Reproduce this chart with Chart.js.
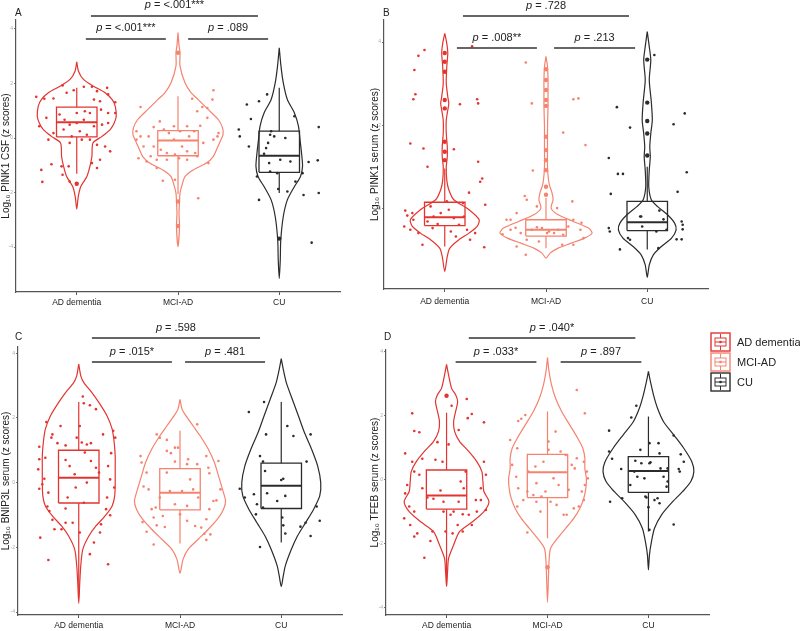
<!DOCTYPE html>
<html>
<head>
<meta charset="utf-8">
<script src="https://cdn.jsdelivr.net/npm/chart.js@4.4.1/dist/chart.umd.min.js"></script>
<style>
    body { margin: 0; background: #fff; width: 800px; height: 631px; position: relative; overflow: hidden; font-family: Arial, "Liberation Sans", sans-serif; }
    canvas { position: absolute; }
    .tag { position: absolute; font-size: 10px; color: #222; }
</style>
</head>
<body>
<canvas id="panelA" width="360" height="315" style="left:0;top:0"></canvas>
<canvas id="panelB" width="440" height="315" style="left:360px;top:0"></canvas>
<canvas id="panelC" width="360" height="316" style="left:0;top:315px"></canvas>
<canvas id="panelD" width="440" height="316" style="left:360px;top:315px"></canvas>
<div class="tag" style="left:15px;top:7px">A</div>
<div class="tag" style="left:383px;top:7px">B</div>
<div class="tag" style="left:15px;top:331px">C</div>
<div class="tag" style="left:384px;top:331px">D</div>
<script>
const groups = ["AD dementia", "MCI-AD", "CU"]
const colors = ["#e3342f", "#f5836f", "#2b2b2b"]

//------------------------------------------DATA---------------------------------------->
// violin profiles: [value, half width in category units], from top to bottom
// boxes: [lower whisker, q1, median, q3, upper whisker]
// points: [jitter offset, value]

// A - PINK1 CSF
const csfViolinAD = [[2.79,0],[2.45,.017],[2.15,.066],[1.90,.165],[1.66,.28],[1.41,.35],[1.17,.38],[0.80,.39],[0.55,.37],[0.31,.33],[0.06,.25],[-0.18,.16],[-0.67,.15],[-1.04,.13],[-1.41,.10],[-1.78,.04],[-2.15,.015],[-2.61,0]]
const csfViolinMCI = [[3.87,0],[3.4,.01],[3.13,.02],[2.64,.02],[2.02,.07],[1.66,.13],[1.41,.2],[1.04,.3],[0.67,.4],[0.37,.44],[0.12,.445],[-0.18,.41],[-0.43,.38],[-0.67,.35],[-0.92,.28],[-1.17,.15],[-1.41,.07],[-1.72,.04],[-2.02,.02],[-2.33,.015],[-2.76,.01],[-3.25,.015],[-3.99,0]]
const csfViolinCU = [[3.31,0],[2.64,.017],[2.02,.04],[1.41,.08],[0.92,.15],[0.43,.19],[-0.06,.205],[-0.55,.22],[-1.04,.23],[-1.41,.21],[-1.78,.15],[-2.27,.08],[-2.88,.04],[-3.74,.015],[-4.48,.01],[-5.15,0]]
const csfBoxAD = [-1.31, 0.04, 0.58, 1.13, 1.84]
const csfBoxMCI = [-2.05, -0.65, -0.09, 0.27, 1.53]
const csfBoxCU = [-2.02, -1.26, -0.65, 0.25, 1.84]
const csfOutAD = [-1.68]
const csfOutMCI = [3.13, -2.33, -3.23]
const csfOutCU = [-3.69]
const csfPtsAD = [[-0.40,1.51],[-0.32,1.44],[-0.23,1.45],[-0.14,1.93],[-0.10,1.66],[-0.03,1.75],[0.07,1.88],[0.15,1.88],[0.20,1.72],[0.30,1.84],[0.38,1.31],[0.38,0.92],[0.31,0.92],[0.24,1.04],[0.13,0.92],[0.07,0.67],[0.00,0.55],[-0.07,0.49],[-0.12,0.67],[-0.17,0.86],[-0.23,0.18],[-0.13,0.31],[-0.05,0.06],[0.03,0.25],[0.10,0.12],[0.17,0.43],[0.25,0.49],[0.31,0.55],[-0.37,0.43],[-0.30,0.74],[-0.07,-0.18],[0.05,-0.06],[0.13,-0.06],[0.20,-0.25],[0.28,-0.31],[0.33,-0.49],[-0.25,-0.96],[-0.15,-1.04],[-0.08,-1.04],[0.15,-0.92],[0.20,-1.10],[0.23,-0.80],[-0.35,-1.17],[-0.34,-1.61],[-0.14,-1.35],[-0.07,-1.60],[0.00,0.92],[0.08,0.98],[0.23,1.35],[0.31,1.60],[0.17,1.41],[-0.28,-0.06]]
const csfPtsMCI = [[-0.37,1.14],[-0.41,0.25],[-0.37,0.06],[-0.29,0.06],[-0.24,0.40],[-0.18,0.61],[-0.14,0.31],[-0.09,0.18],[-0.04,-0.06],[0.02,0.25],[0.11,0.06],[0.16,0.25],[0.22,0.45],[0.29,0.74],[0.34,1.41],[0.35,1.75],[0.14,1.44],[0.24,1.14],[0.29,1.10],[0.19,0.98],[-0.41,-0.06],[-0.34,-0.31],[-0.24,-0.31],[-0.17,-0.43],[-0.11,-0.55],[-0.03,-0.61],[0.04,-0.31],[0.09,-0.49],[0.17,-0.55],[0.25,-0.18],[0.35,-0.06],[0.40,0.18],[-0.39,-0.74],[-0.31,-0.86],[-0.21,-0.80],[-0.11,-0.80],[0.01,-0.74],[0.09,-0.80],[0.19,-0.67],[0.30,-0.92],[-0.21,-1.10],[-0.15,-1.57],[-0.03,-1.53],[0.20,-2.21],[-0.27,-0.67],[-0.04,0.43],[0.09,0.43],[0.39,0.06]]
const csfPtsCU = [[-0.32,1.23],[-0.20,1.35],[-0.12,1.60],[-0.40,0.31],[-0.39,0.06],[-0.30,-0.31],[-0.28,0.70],[-0.09,0.12],[-0.08,0.25],[-0.11,-0.18],[-0.13,-0.37],[-0.05,0.06],[0.06,0.00],[-0.15,-0.58],[-0.10,-0.92],[0.01,-0.80],[0.11,-0.86],[-0.09,-1.23],[-0.02,-1.29],[0.15,0.80],[0.39,0.40],[0.38,-0.82],[0.29,-0.88],[0.23,-1.29],[0.16,-1.60],[-0.20,-2.27],[-0.01,-1.87],[0.08,-1.96],[0.24,-2.09],[0.39,-2.02],[0.32,-3.84],[-0.22,-1.41]]

// B - PINK1 serum
const serViolinAD = [[4.21,0],[3.97,.02],[3.73,.03],[3.41,.02],[3.01,.015],[2.69,.03],[2.53,.04],[2.37,.03],[2.13,.015],[1.81,.015],[1.49,.025],[1.25,.025],[1.01,.015],[0.69,.02],[0.46,.04],[0.22,.09],[-0.02,.24],[-0.26,.34],[-0.42,.32],[-0.58,.24],[-0.74,.14],[-0.94,.05],[-1.14,.025],[-1.5,0]]
const serViolinMCI = [[3.66,0],[3.41,.015],[3.09,.02],[2.77,.02],[2.45,.02],[1.97,.015],[1.49,.015],[1.01,.015],[0.61,.03],[0.38,.06],[0.22,.07],[0.02,.05],[-0.14,.12],[-0.30,.27],[-0.46,.42],[-0.58,.455],[-0.70,.38],[-0.82,.25],[-0.94,.12],[-1.06,.04],[-1.18,0]]
const serViolinCU = [[4.25,0],[3.89,.02],[3.57,.035],[3.09,.02],[2.57,.04],[2.13,.05],[1.81,.035],[1.49,.025],[1.25,.03],[0.93,.02],[0.53,.015],[0.22,.04],[0.06,.10],[-0.14,.20],[-0.34,.27],[-0.50,.285],[-0.70,.24],[-0.90,.14],[-1.10,.06],[-1.34,.02],[-1.64,0]]
const serBoxAD = [-0.90, -0.40, -0.20, 0.16, 0.97]
const serBoxMCI = [-0.94, -0.65, -0.50, -0.26, 0.26]
const serBoxCU = [-0.97, -0.52, -0.32, 0.18, 1.01]
const serOutAD = [3.74, 3.53, 3.29, 2.61, 2.41, 1.61, 1.37, 1.17]
const serOutMCI = [3.35, 3.09, 2.85, 2.61, 2.47, 1.73, 1.41, 1.17, 0.93, 0.53, 0.34]
const serOutCU = [3.58, 2.55, 2.11, 1.81, 1.28]
const serPtsAD = [[-0.20,3.81],[-0.26,3.67],[-0.30,3.33],[-0.29,2.75],[-0.31,2.63],[-0.34,1.57],[-0.21,1.45],[-0.17,1.01],[0.15,2.51],[0.32,2.63],[0.33,2.53],[0.27,3.90],[0.09,1.43],[0.33,1.13],[0.37,0.73],[0.35,0.65],[0.24,0.39],[0.40,0.10],[-0.39,-0.04],[-0.37,-0.16],[-0.40,-0.42],[-0.34,-0.50],[-0.31,-0.26],[-0.26,-0.58],[-0.22,-0.86],[-0.14,0.06],[-0.11,-0.18],[-0.07,-0.36],[-0.04,-0.10],[0.04,-0.02],[0.09,-0.22],[0.14,-0.38],[0.19,-0.18],[0.22,-0.50],[0.25,-0.74],[0.30,-0.58],[0.39,-0.92],[-0.12,-0.46],[-0.17,-0.30],[0.06,-0.54],[0.11,-0.66],[0.18,0.14],[-0.32,-0.10],[0.02,0.18]]
const serPtsMCI = [[-0.20,3.51],[-0.14,2.53],[0.17,1.83],[0.27,2.63],[0.32,2.65],[0.39,1.53],[-0.13,0.92],[-0.21,0.31],[-0.19,0.22],[-0.09,0.06],[-0.29,-0.10],[-0.35,-0.26],[-0.39,-0.26],[-0.30,-0.45],[-0.25,-0.58],[-0.19,-0.74],[-0.14,-0.50],[-0.09,-0.44],[-0.04,-0.46],[0.03,-0.54],[0.08,-0.58],[0.12,-0.50],[0.17,-0.62],[0.22,-0.42],[0.27,-0.26],[0.34,-0.50],[0.37,-0.70],[0.27,-0.86],[0.16,-0.86],[0.01,-0.58],[-0.07,-0.78],[-0.29,-0.90],[-0.20,-1.10],[0.11,0.02],[0.26,0.18],[0.35,-0.33],[-0.35,-0.50],[-0.43,-0.61]]
const serPtsCU = [[0.07,3.69],[-0.30,2.44],[-0.17,1.95],[0.37,2.29],[0.26,2.03],[-0.38,1.22],[-0.29,0.84],[-0.24,0.84],[0.39,0.88],[-0.36,0.36],[0.30,0.41],[-0.07,-0.18],[0.12,-0.04],[-0.27,-0.97],[-0.38,-0.46],[-0.37,-0.54],[-0.19,-0.70],[-0.17,-0.74],[0.09,-0.54],[0.19,-0.50],[0.34,-0.30],[0.35,-0.38],[0.35,-0.49],[0.29,-0.73],[0.34,-0.73],[0.11,-0.94],[-0.05,-0.42],[-0.06,-0.18],[0.16,-0.25]]

// C - BNIP3L serum
const bnViolinAD = [[3.66,0],[3.30,.02],[3.09,.05],[2.78,.13],[2.47,.2],[2.06,.28],[1.65,.33],[1.24,.35],[0.82,.36],[0.41,.36],[0,.36],[-0.41,.355],[-0.72,.33],[-1.03,.26],[-1.34,.17],[-1.65,.10],[-2.06,.04],[-2.57,.02],[-3.09,.01],[-3.73,0]]
const bnViolinMCI = [[2.57,0],[2.27,.02],[2.06,.06],[1.75,.13],[1.44,.2],[1.03,.28],[0.62,.34],[0.21,.38],[-0.21,.42],[-0.57,.45],[-0.82,.43],[-1.13,.37],[-1.44,.28],[-1.75,.18],[-2.06,.08],[-2.37,.03],[-2.80,0]]
const bnViolinCU = [[3.83,0],[3.50,.02],[3.09,.05],[2.57,.11],[2.06,.17],[1.54,.23],[1.03,.3],[0.51,.36],[0,.39],[-0.41,.38],[-0.82,.32],[-1.24,.24],[-1.65,.16],[-2.06,.10],[-2.57,.04],[-2.88,.02],[-3.21,0]]
const bnBoxAD = [-3.55, -0.63, 0.15, 1.00, 2.49]
const bnBoxMCI = [-1.88, -0.84, -0.31, 0.43, 1.60]
const bnBoxCU = [-1.85, -0.80, -0.10, 0.60, 2.49]
const bnPtsAD = [[-0.32,1.87],[-0.18,1.75],[-0.26,1.49],[-0.27,1.39],[-0.21,1.22],[-0.39,1.11],[-0.33,0.77],[-0.39,0.72],[-0.40,0.41],[-0.34,0.12],[-0.36,-0.05],[-0.39,-0.19],[-0.30,-0.31],[-0.31,-0.74],[-0.29,-0.88],[-0.26,-1.15],[-0.24,-1.44],[-0.38,-1.70],[-0.30,-2.39],[-0.13,1.15],[-0.13,0.70],[-0.09,0.51],[-0.04,0.26],[-0.02,1.39],[0.01,1.75],[0.04,2.66],[0.05,2.45],[0.11,2.39],[0.17,2.27],[0.24,1.49],[0.34,1.60],[0.36,1.39],[0.32,0.91],[0.29,0.51],[0.31,0.10],[0.35,-0.15],[0.28,-0.46],[0.27,-0.82],[0.31,-1.01],[0.22,-1.29],[0.21,-1.54],[0.15,-1.85],[0.11,-2.21],[0.29,-2.52],[0.03,1.24],[0.08,1.18],[0.12,1.22],[0.06,0.93],[0.12,0.67],[0.17,0.46],[0.20,0.31],[0.08,0.00],[0.05,-0.62],[-0.03,-0.15],[-0.11,-0.46],[-0.13,-0.80],[-0.06,-1.24],[-0.13,-1.24],[0.01,-1.54],[-0.17,-1.44]]
const bnPtsMCI = [[-0.39,0.82],[-0.38,0.62],[-0.33,0.31],[-0.36,-0.12],[-0.31,-0.21],[-0.28,-0.82],[-0.26,-1.08],[-0.37,-1.22],[-0.33,-1.52],[-0.26,-1.91],[-0.23,1.49],[-0.20,1.39],[-0.13,1.32],[-0.13,0.98],[-0.09,0.91],[-0.05,1.08],[-0.02,1.08],[0.08,0.72],[0.07,0.57],[0.17,0.57],[0.26,0.82],[0.28,0.46],[0.29,0.29],[0.38,0.67],[0.40,-0.21],[0.36,-0.55],[0.33,-0.57],[0.29,-0.82],[0.26,-1.13],[0.24,-1.58],[0.26,-1.77],[0.30,-1.60],[0.17,1.80],[-0.05,0.65],[-0.13,0.31],[-0.10,-0.26],[-0.05,-0.67],[0.02,-0.26],[0.10,0.10],[0.13,-0.21],[0.18,-0.46],[-0.17,-1.03],[-0.15,-1.37],[-0.23,-1.32],[0.00,-0.98],[0.07,-1.18],[0.15,-1.34],[0.21,-1.39],[-0.24,-0.77],[-0.20,-0.46],[0.07,-0.72]]
const bnPtsCU = [[-0.32,2.18],[-0.17,2.49],[-0.15,1.49],[0.06,1.75],[0.12,1.44],[0.29,1.49],[-0.18,0.65],[-0.16,0.36],[-0.21,0.82],[-0.41,-0.19],[-0.36,-0.46],[-0.27,-0.36],[-0.24,-0.67],[-0.25,-0.98],[-0.18,-0.77],[0.00,0.08],[0.02,0.12],[-0.14,-0.33],[0.04,-0.41],[0.01,-1.08],[0.04,-1.57],[0.02,-1.32],[-0.04,-0.57],[0.25,0.65],[0.35,-0.74],[0.38,-1.18],[0.24,-1.24],[0.19,-1.36],[-0.21,-1.99],[0.29,-1.65]]

// D - TFEB serum
const tfViolinAD = [[3.61,0],[3.28,.02],[2.86,.05],[2.66,.09],[2.45,.11],[2.14,.09],[1.82,.07],[1.51,.08],[1.20,.13],[0.89,.22],[0.57,.3],[0.26,.35],[-0.05,.36],[-0.36,.37],[-0.68,.42],[-0.99,.37],[-1.30,.26],[-1.61,.13],[-2.03,.07],[-2.45,.02],[-2.86,.01],[-3.33,0]]
const tfViolinMCI = [[3.82,0],[3.39,.015],[2.97,.04],[2.55,.08],[2.14,.14],[1.72,.22],[1.30,.3],[0.99,.35],[0.68,.37],[0.36,.37],[0.05,.385],[-0.26,.38],[-0.57,.36],[-0.89,.32],[-1.20,.26],[-1.51,.18],[-1.82,.1],[-2.14,.03],[-2.55,.015],[-2.97,.01],[-3.82,0]]
const tfViolinCU = [[3.39,0],[3.07,.02],[2.66,.05],[2.24,.09],[1.82,.15],[1.41,.25],[0.99,.35],[0.57,.43],[0.26,.45],[-0.05,.42],[-0.36,.34],[-0.68,.24],[-1.09,.13],[-1.51,.06],[-1.93,.03],[-2.34,.01],[-2.81,0]]
const tfBoxAD = [-3.3, -0.91, -0.49, 0.31, 2.10]
const tfBoxMCI = [-1.82, -0.55, 0.24, 0.80, 2.14]
const tfBoxCU = [-1.61, -0.39, 0.28, 0.73, 1.98]
const tfOutAD = [2.63]
const tfOutMCI = [-2.73]
const tfPtsAD = [[-0.34,2.08],[-0.32,1.53],[-0.27,1.49],[-0.09,1.18],[0.02,1.11],[0.05,2.32],[0.20,2.53],[0.21,1.93],[0.25,2.06],[0.37,1.80],[0.12,1.56],[-0.41,0.83],[-0.34,0.57],[-0.24,0.66],[-0.11,0.63],[-0.04,0.57],[-0.32,0.26],[-0.27,0.16],[-0.39,-0.16],[-0.41,-0.42],[-0.37,-0.83],[-0.32,-0.99],[-0.42,-1.20],[-0.36,-1.41],[-0.29,-1.67],[-0.32,-1.77],[-0.14,-1.61],[-0.16,-1.91],[-0.22,-2.43],[-0.01,-1.61],[0.06,-1.67],[0.16,-1.61],[0.11,-1.41],[0.25,-1.41],[0.22,-1.09],[0.30,-0.99],[0.39,-0.94],[0.34,-0.63],[0.29,-0.63],[0.34,-0.26],[0.37,0.57],[0.39,0.16],[0.19,0.26],[0.14,-0.05],[0.17,-0.26],[0.12,-0.68],[-0.03,-0.68],[-0.06,-0.33],[-0.13,-0.59],[-0.19,-0.55],[-0.24,-0.26],[-0.03,-0.99],[0.07,-0.99],[0.04,-1.09],[0.16,-1.07]]
const tfPtsMCI = [[-0.29,1.84],[-0.26,1.91],[-0.22,2.03],[-0.37,1.25],[-0.30,0.99],[-0.35,0.47],[-0.31,0.10],[-0.29,-0.26],[-0.30,-0.83],[-0.20,-1.64],[-0.11,-0.68],[-0.06,-0.52],[-0.07,-0.99],[-0.19,0.26],[-0.12,0.42],[-0.04,0.57],[0.01,1.20],[0.08,1.51],[0.13,0.89],[0.18,0.78],[0.24,0.47],[0.29,0.68],[0.27,0.36],[0.36,0.57],[0.39,0.26],[0.40,0.05],[0.37,-0.16],[0.34,-0.36],[0.36,-0.63],[0.31,-0.83],[0.26,-0.89],[0.19,-1.09],[0.16,-1.09],[0.09,-0.78],[0.03,-0.68],[-0.02,-0.36],[0.06,0.05],[0.11,-0.16],[0.21,-0.31],[-0.11,-0.10],[-0.14,-0.47],[-0.24,-0.63],[-0.20,-0.36],[0.29,2.81],[0.37,2.08],[0.01,0.94]]
const tfPtsCU = [[-0.12,2.32],[-0.17,1.95],[-0.39,1.54],[0.01,1.15],[0.10,1.15],[0.25,1.39],[-0.39,0.89],[-0.36,0.66],[-0.08,0.94],[-0.13,0.60],[-0.07,0.52],[0.01,0.52],[0.02,0.55],[0.11,0.83],[0.32,0.80],[0.35,0.57],[0.30,0.34],[0.31,0.26],[-0.27,0.34],[-0.11,0.10],[-0.04,0.05],[0.15,0.10],[0.19,-0.05],[0.18,-0.21],[-0.03,-0.52],[-0.02,-0.55],[0.09,-0.57],[0.11,-0.73],[0.00,-0.85],[0.06,-0.63],[-0.26,-0.57],[-0.38,-0.68],[0.01,-1.56],[0.25,-1.39],[0.12,0.36],[-0.18,-0.16],[0.19,0.36],[-0.14,0.26]]

// p-value brackets (from / to in category units)
const pvalA = [" = <.001***", " = <.001***", " = .089"]
const pvalB = [" = .728", " = .008**", " = .213"]
const pvalC = [" = .598", " = .015*", " = .481"]
const pvalD = [" = .040*", " = .033*", " = .897"]

//------------------------------------------DRAWING---------------------------------------->

Chart.defaults.font.family = 'Arial, "Liberation Sans", sans-serif'

const BOX_HALF = 0.2

// draws brackets with p values and the legend
const extrasPlugin = {
    id: "extras",
    afterDraw(chart, args, opts) {
        const ctx = chart.ctx
        const xs = chart.scales.x
        ctx.save()
        ctx.textBaseline = "middle"
        ctx.textAlign = "left"
        ;(opts.brackets || []).forEach(b => {
            const x1 = xs.getPixelForValue(b.from)
            const x2 = xs.getPixelForValue(b.to)
            const [ly, ty] = opts.rows[b.row]
            ctx.strokeStyle = "#333"
            ctx.lineWidth = 1.3
            ctx.beginPath()
            ctx.moveTo(x1, ly)
            ctx.lineTo(x2, ly)
            ctx.stroke()
            ctx.font = "italic 11px Arial"
            const w1 = ctx.measureText("p").width
            ctx.font = "11px Arial"
            const w2 = ctx.measureText(b.text).width
            const x = (x1 + x2) / 2 - (w1 + w2) / 2
            ctx.fillStyle = "#222"
            ctx.font = "italic 11px Arial"
            ctx.fillText("p", x, ty)
            ctx.font = "11px Arial"
            ctx.fillText(b.text, x + w1, ty)
        })
        if (opts.legend) {
            const [lx, ly] = opts.legend
            groups.forEach((g, i) => {
                const col = colors[i]
                const y = ly + i * 20
                ctx.strokeStyle = col
                ctx.fillStyle = col
                ctx.lineWidth = 1.4
                ctx.strokeRect(lx, y, 19, 18)
                ctx.lineWidth = 1
                ctx.strokeRect(lx + 4, y + 5, 11, 8)
                ctx.beginPath()
                ctx.moveTo(lx + 9.5, y + 1); ctx.lineTo(lx + 9.5, y + 5)
                ctx.moveTo(lx + 9.5, y + 13); ctx.lineTo(lx + 9.5, y + 17)
                ctx.moveTo(lx + 4, y + 9); ctx.lineTo(lx + 15, y + 9)
                ctx.stroke()
                ctx.beginPath()
                ctx.arc(lx + 9.5, y + 9, 1.3, 0, Math.PI * 2)
                ctx.fill()
                ctx.fillStyle = "#222"
                ctx.font = "11px Arial"
                ctx.fillText(g, lx + 26, y + 10)
            })
        }
        ctx.restore()
    }
}

function lineSet(data, col, width, order) {
    return { data, showLine: true, borderColor: col, borderWidth: width, pointRadius: 0, tension: 0, order }
}

/**
 * Build one violin + box + jitter panel
 */
function buildPanel(id, p) {
    const datasets = []
    for (let g = 0; g < 3; g++) {
        const c = g + 1
        const col = colors[g]
        const v = p.violins[g]
        const left = v.map(r => ({ x: c - r[1], y: r[0] }))
        const right = v.slice(1, -1).reverse().map(r => ({ x: c + r[1], y: r[0] }))
        const violin = lineSet(left.concat(right, [left[0]]), col, 1.2, 3)
        violin.tension = 0.25
        datasets.push(violin)

        const [lo, q1, md, q3, hi] = p.boxes[g]
        datasets.push(lineSet([
            { x: c - BOX_HALF, y: q1 }, { x: c + BOX_HALF, y: q1 },
            { x: c + BOX_HALF, y: q3 }, { x: c - BOX_HALF, y: q3 }, { x: c - BOX_HALF, y: q1 }
        ], col, 1.3, 2))
        datasets.push(lineSet([{ x: c - BOX_HALF, y: md }, { x: c + BOX_HALF, y: md }], col, 2, 2))
        datasets.push(lineSet([{ x: c, y: q3 }, { x: c, y: hi }], col, 1.2, 2))
        datasets.push(lineSet([{ x: c, y: q1 }, { x: c, y: lo }], col, 1.2, 2))

        datasets.push({
            data: p.points[g].map(r => ({ x: c + r[0], y: r[1] })),
            pointRadius: 1.3, pointBackgroundColor: col, pointBorderWidth: 0, showLine: false, order: 0
        })
        datasets.push({
            data: (p.outliers[g] || []).map(y => ({ x: c, y })),
            pointRadius: 2.2, pointBackgroundColor: col, pointBorderWidth: 0, showLine: false, order: 0
        })
    }

    const brackets = [
        { from: p.spans[0][0], to: p.spans[0][1], row: 0, text: p.pvals[0] },
        { from: p.spans[1][0], to: p.spans[1][1], row: 1, text: p.pvals[1] },
        { from: p.spans[2][0], to: p.spans[2][1], row: 1, text: p.pvals[2] }
    ]

    new Chart(document.getElementById(id), {
        type: "scatter",
        data: { datasets },
        plugins: [extrasPlugin],
        options: {
            responsive: false,
            animation: false,
            events: [],
            layout: { padding: p.pad },
            plugins: {
                legend: { display: false },
                tooltip: { enabled: false },
                extras: { brackets, rows: p.rows, legend: p.legend }
            },
            scales: {
                x: {
                    type: "linear", min: 0.4, max: 3.6,
                    afterBuildTicks: s => { s.ticks = [1, 2, 3].map(value => ({ value })) },
                    afterFit: s => { s.height = p.xh },
                    grid: { drawOnChartArea: false, tickLength: 3, color: "#555" },
                    border: { color: "#555", width: 1.2 },
                    ticks: { callback: v => groups[v - 1], font: { size: 8.5 }, color: "#222", padding: p.xpad, maxRotation: 0, autoSkip: false }
                },
                y: {
                    min: p.yMin, max: p.yMax,
                    afterBuildTicks: s => { s.ticks = p.yTicks.map(value => ({ value })) },
                    afterFit: s => { s.width = p.yw },
                    grid: { drawOnChartArea: false, tickLength: 2, color: "#777" },
                    border: { color: "#555", width: 1.2 },
                    ticks: { font: { size: 5 }, color: "#aaa", padding: 1 },
                    title: { display: true, text: p.title, font: { size: 10 }, color: "#222", padding: 0 }
                }
            }
        }
    })
}

buildPanel("panelA", {
    violins: [csfViolinAD, csfViolinMCI, csfViolinCU],
    boxes: [csfBoxAD, csfBoxMCI, csfBoxCU],
    points: [csfPtsAD, csfPtsMCI, csfPtsCU],
    outliers: [csfOutAD, csfOutMCI, csfOutCU],
    pvals: pvalA, spans: [[1.14, 2.79], [1.09, 1.88], [2.1, 2.89]], rows: [[16, 5], [39, 28]],
    yMin: -5.65, yMax: 4.33, yTicks: [-4, -2, 0, 2, 4],
    title: "Log\u2081\u2080 PINK1 CSF (z scores)",
    pad: { left: 0, top: 20, right: 20, bottom: 0 }, yw: 16, xh: 23, xpad: 3
})

buildPanel("panelB", {
    violins: [serViolinAD, serViolinMCI, serViolinCU],
    boxes: [serBoxAD, serBoxMCI, serBoxCU],
    points: [serPtsAD, serPtsMCI, serPtsCU],
    outliers: [serOutAD, serOutMCI, serOutCU],
    pvals: pvalB, spans: [[1.18, 2.82], [1.12, 1.91], [2.08, 2.88]], rows: [[16, 6], [48, 38]],
    yMin: -1.92, yMax: 4.53, yTicks: [0, 2, 4],
    title: "Log\u2081\u2080 PINK1 serum (z scores)",
    pad: { left: 9, top: 20, right: 92, bottom: 0 }, yw: 15, xh: 26, xpad: 5
})

buildPanel("panelC", {
    violins: [bnViolinAD, bnViolinMCI, bnViolinCU],
    boxes: [bnBoxAD, bnBoxMCI, bnBoxCU],
    points: [bnPtsAD, bnPtsMCI, bnPtsCU],
    outliers: [[], [], []],
    pvals: pvalC, spans: [[1.13, 2.79], [1.13, 1.92], [2.05, 2.84]], rows: [[23, 13], [47, 37]],
    yMin: -4.09, yMax: 4.19, yTicks: [-4, -2, 0, 2, 4],
    title: "Log\u2081\u2080 BNIP3L serum (z scores)",
    pad: { left: 0, top: 32, right: 18, bottom: 0 }, yw: 18, xh: 16, xpad: 3
})

buildPanel("panelD", {
    violins: [tfViolinAD, tfViolinMCI, tfViolinCU],
    boxes: [tfBoxAD, tfBoxMCI, tfBoxCU],
    points: [tfPtsAD, tfPtsMCI, tfPtsCU],
    outliers: [tfOutAD, tfOutMCI, []],
    pvals: pvalD, spans: [[1.22, 2.87], [1.09, 1.89], [2.13, 2.93]], rows: [[23, 13], [47, 37]],
    yMin: -4.22, yMax: 4.06, yTicks: [-4, -2, 0, 2, 4],
    title: "Log\u2081\u2080 TFEB serum (z scores)",
    pad: { left: 9, top: 35, right: 91, bottom: 0 }, yw: 17, xh: 16, xpad: 3,
    legend: [351, 18]
})
</script>
</body>
</html>
